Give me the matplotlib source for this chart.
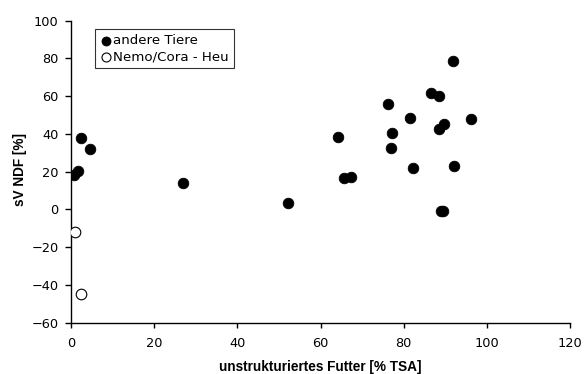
import matplotlib.pyplot as plt

# filled points: "andere Tiere"
andere_x = [0.7, 1.6, 2.4, 4.6, 27.0, 52.1, 91.9, 86.5, 88.4, 76.3, 81.5, 96.1,
            89.8, 88.5, 77.3, 64.3, 77.0, 82.2, 92.2, 65.6, 67.3, 88.9, 89.5]
andere_y = [18.1, 20.2, 37.9, 31.9, 14.1, 3.5, 78.6, 61.7, 59.9, 55.7, 48.6, 47.9,
            45.1, 42.6, 40.7, 38.6, 32.6, 22.0, 22.9, 16.9, 17.1, -0.9, -0.9]

# open points: "Nemo/Cora - Heu"
heu_x = [1.0, 2.4]
heu_y = [-11.8, -45.0]

x_ticks = [0, 20, 40, 60, 80, 100, 120]
y_ticks = [-60, -40, -20, 0, 20, 40, 60, 80, 100]

fig = plt.figure(figsize=(5.87, 3.74), dpi=100)
ax = fig.add_axes([71 / 587, 51.3 / 374, 499 / 587, 302 / 374])

ax.scatter(andere_x, andere_y, s=58, facecolor="black", edgecolor="black",
           linewidths=0.6, label="andere Tiere", zorder=3)
ax.scatter(heu_x, heu_y, s=58, facecolor="white", edgecolor="black",
           linewidths=0.8, label="Nemo/Cora - Heu", zorder=3)

ax.set_xlim(0, 120)
ax.set_ylim(-60, 100)
ax.set_xticks(x_ticks)
ax.set_yticks(y_ticks)
ax.spines["top"].set_visible(False)
ax.spines["right"].set_visible(False)
for side in ("left", "bottom"):
    ax.spines[side].set_linewidth(1.0)
ax.tick_params(direction="out", width=1.0, labelsize=9.3)
ax.tick_params(axis="y", length=4.5, pad=4.3)
ax.tick_params(axis="x", length=3.5, pad=7)
for lbl in ax.get_xticklabels() + ax.get_yticklabels():
    lbl.set_family("DejaVu Sans")

ax.set_xlabel("unstrukturiertes Futter [% TSA]", fontsize=9.8,
              fontweight="bold", family="Liberation Sans", va="center")
ax.xaxis.set_label_coords(0.5, -0.148)
ax.set_ylabel("sV NDF [%]", fontsize=9.8, fontweight="bold",
              family="Liberation Sans", va="center")
ax.yaxis.set_label_coords(-0.102, 0.507)

leg = ax.legend(loc="upper left", bbox_to_anchor=(95 / 587, 1 - 29 / 374),
                bbox_transform=fig.transFigure, frameon=True, fancybox=False,
                handletextpad=0.15, borderpad=0.4, labelspacing=0.2,
                handlelength=0.8, borderaxespad=0, markerscale=0.85,
                prop={"family": "DejaVu Sans", "size": 9.6})
leg.get_frame().set_edgecolor("black")
leg.get_frame().set_linewidth(0.8)

fig.savefig("out.png", dpi=100)
